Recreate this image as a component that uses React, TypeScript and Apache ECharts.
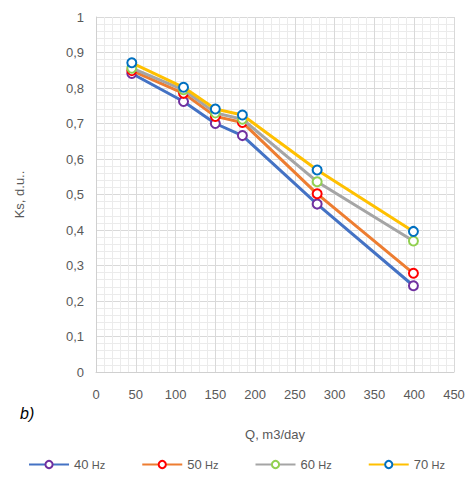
import React, { useEffect, useRef } from "react";
import * as echarts from "echarts";

// Flow rate, m3/day
const flow = [45, 110, 150, 184, 278, 399];
// Ks at each frequency
const ks40 = [0.841, 0.762, 0.7, 0.666, 0.473, 0.243];
const ks50 = [0.849, 0.785, 0.72, 0.703, 0.502, 0.278];
const ks60 = [0.856, 0.795, 0.73, 0.712, 0.536, 0.369];
const ks70 = [0.871, 0.802, 0.741, 0.724, 0.569, 0.396];

const seriesNames = ["40 Hz", "50 Hz", "60 Hz", "70 Hz"];
const lineColors = ["#4472C4", "#ED7D31", "#A5A5A5", "#FFC000"];
const markerColors = ["#7030A0", "#FF0000", "#92D050", "#0070C0"];

const FONT = "'Liberation Sans', Arial, sans-serif";

export default function App() {
  const ref = useRef<HTMLDivElement>(null);

  useEffect(() => {
    if (!ref.current) return;
    const chart = echarts.init(ref.current, undefined, { renderer: "svg" });
    const all = [ks40, ks50, ks60, ks70];
    const series = all.map((vals, i) => ({
      name: seriesNames[i],
      type: "line",
      data: flow.map((q, j) => [q, vals[j]]),
      symbol: "circle",
      symbolSize: 9,
      showSymbol: true,
      lineStyle: { color: lineColors[i], width: 3 },
      itemStyle: { color: "#ffffff", borderColor: markerColors[i], borderWidth: 2 },
      z: 2 + i,
    }));

    chart.setOption({
      animation: false,
      textStyle: { fontFamily: FONT },
      grid: { left: 96, right: 19, top: 17, bottom: 107 },
      xAxis: {
        type: "value",
        min: 0,
        max: 450,
        interval: 50,
        name: "Q, m3/day",
        nameLocation: "middle",
        nameGap: 56,
        nameTextStyle: { color: "#595959", fontSize: 13, fontFamily: FONT },
        axisLine: { show: true, lineStyle: { color: "#d0d0d0", width: 1 } },
        axisTick: { show: false },
        axisLabel: { color: "#595959", fontSize: 13, margin: 16, fontFamily: FONT },
        splitLine: { show: true, lineStyle: { color: "#d9d9d9", width: 1 } },
        minorTick: { show: false, splitNumber: 5 },
        minorSplitLine: { show: true, lineStyle: { color: "#ebebeb", width: 1 } },
      },
      yAxis: {
        type: "value",
        min: 0,
        max: 1,
        interval: 0.1,
        name: "Ks, d.u..",
        nameLocation: "middle",
        nameGap: 70,
        nameTextStyle: { color: "#595959", fontSize: 13, fontFamily: FONT },
        axisLine: { show: true, lineStyle: { color: "#d0d0d0", width: 1 } },
        axisTick: { show: false },
        axisLabel: {
          color: "#595959",
          fontSize: 13,
          margin: 12,
          fontFamily: FONT,
          formatter: (v: number) => (Math.round(v * 10) / 10).toString().replace(".", ","),
        },
        splitLine: { show: true, lineStyle: { color: "#d9d9d9", width: 1 } },
        minorTick: { show: false, splitNumber: 5 },
        minorSplitLine: { show: true, lineStyle: { color: "#ebebeb", width: 1 } },
      },
      legend: {
        bottom: 3,
        left: "center",
        itemWidth: 40,
        itemHeight: 9,
        itemGap: 36,
        data: seriesNames,
        formatter: (name: string) => {
          const [num, unit] = name.split(" ");
          return `{n|${num}} {u|${unit}}`;
        },
        textStyle: {
          rich: {
            n: { fontSize: 13, color: "#595959", fontFamily: FONT },
            u: { fontSize: 11, color: "#595959", fontFamily: FONT },
          },
        },
      },
      graphic: [
        {
          type: "text",
          left: 20,
          top: 405,
          style: {
            text: "b)",
            font: `italic 16px ${FONT}`,
            fill: "#000000",
          },
        },
      ],
      series,
    });
    return () => chart.dispose();
  }, []);

  return <div ref={ref} style={{ width: 473, height: 479, position: "absolute", left: 0, top: 0 }} />;
}
